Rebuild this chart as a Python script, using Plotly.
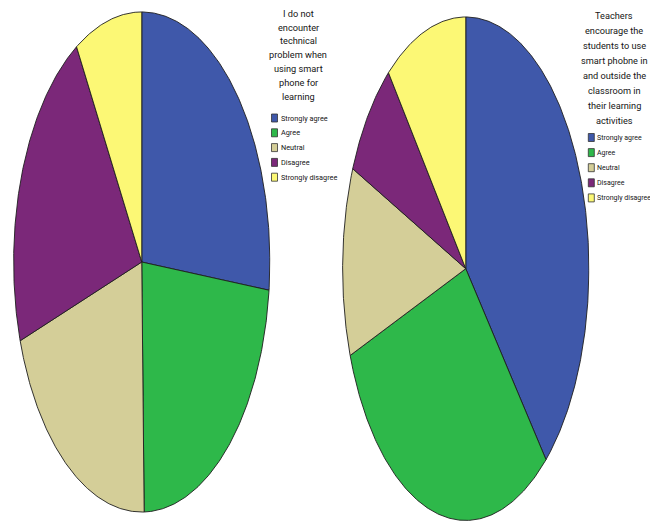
import numpy as np
import plotly.graph_objects as go

# ---- data ----
categories = ["Strongly agree", "Agree", "Neutral", "Disagree", "Strongly disagree"]
colors = ["#3F58AA", "#2EB84A", "#D4CE98", "#7B2879", "#FCF875"]
left_values = [26.8, 22.9, 20.2, 21.6, 8.5]
right_values = [38.7, 30.7, 12.1, 7.7, 10.8]
left_title = ["I do not", "encounter", "technical", "problem when", "using smart", "phone for", "learning"]
right_title = ["Teachers", "encourage the", "students to use", "smart phobne in",
               "and outside the", "classroom in", "their learning", "activities"]

W, H = 650, 523
FONT = "Roboto, Liberation Sans, sans-serif"
TEXT_COLOR = "#161616"


def fx(p):
    return p / W


def fy(p):
    return 1 - p / H


fig = go.Figure()


def add_pie(values, xa, ya):
    total = float(sum(values))
    start = 0.0
    for cat, val, col in zip(categories, values, colors):
        end = start + val / total * 2 * np.pi
        t = np.linspace(start, end, max(int((end - start) / 0.01), 2))
        xs = np.concatenate([[0], np.sin(t), [0]])
        ys = np.concatenate([[0], np.cos(t), [0]])
        fig.add_trace(go.Scatter(x=xs, y=ys, mode="lines", fill="toself",
                                 fillcolor=col, line=dict(color="#1e1e1e", width=0.9),
                                 name=cat, showlegend=False, hoverinfo="name",
                                 xaxis=xa, yaxis=ya))
        start = end


add_pie(left_values, "x", "y")
add_pie(right_values, "x2", "y2")

axis_common = dict(visible=False, range=[-1.005, 1.005], fixedrange=True)
fig.update_layout(
    width=W, height=H,
    margin=dict(l=0, r=0, t=0, b=0),
    paper_bgcolor="white", plot_bgcolor="white",
    showlegend=False,
    xaxis=dict(domain=[fx(13), fx(270.5)], **axis_common),
    yaxis=dict(domain=[fy(513.3), fy(10.7)], **axis_common),
    xaxis2=dict(domain=[fx(342), fx(589.5)], anchor="y2", **axis_common),
    yaxis2=dict(domain=[fy(521.7), fy(15.7)], anchor="x2", **axis_common),
)

annotations = []
shapes = []


def add_legend(title_lines, title_cx, title_top, title_step, title_size,
               sw_x, item_y0, item_step, item_size):
    for i, line in enumerate(title_lines):
        annotations.append(dict(text=line, x=fx(title_cx), y=fy(title_top + i * title_step),
                                xref="paper", yref="paper", xanchor="center", yanchor="middle",
                                showarrow=False, font=dict(family=FONT, size=title_size, color=TEXT_COLOR)))
    for i, (cat, col) in enumerate(zip(categories, colors)):
        yc = item_y0 + i * item_step
        shapes.append(dict(type="rect", xref="paper", yref="paper",
                           x0=fx(sw_x), x1=fx(sw_x + 6), y0=fy(yc + 4), y1=fy(yc - 4),
                           fillcolor=col, line=dict(color="#333333", width=0.8)))
        annotations.append(dict(text=cat, x=fx(sw_x + 7), y=fy(yc),
                                xref="paper", yref="paper", xanchor="left", yanchor="middle",
                                showarrow=False, font=dict(family=FONT, size=item_size, color=TEXT_COLOR)))


add_legend(left_title, 298, 13.3, 13.8, 9.2, 271.5, 118, 14.8, 7.3)
add_legend(right_title, 614, 16, 14.9, 9.2, 588.3, 137.5, 15.1, 7)

fig.update_layout(annotations=annotations, shapes=shapes)
fig.write_html("out.html")
